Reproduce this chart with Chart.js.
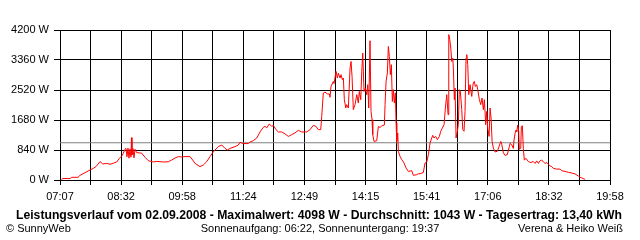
<!DOCTYPE html>
<html>
<head>
<meta charset="utf-8">
<script src="https://cdn.jsdelivr.net/npm/chart.js@4.4.1/dist/chart.umd.min.js"></script>
<style>
  body { margin: 0; background: #fff; }
  canvas { display: block; }
</style>
</head>
<body>
<canvas id="power-chart" width="640" height="240"></canvas>
<script>
// times in minutes since midnight, power in W
const minutes = [
  429.1, 431.2, 441.0, 443.4, 452.2, 455.0, 462.1, 469.1, 473.7, 477.5,
  483.1, 486.9, 492.5, 497.1, 501.7, 506.5, 510.1, 513.5, 515.7, 518.1,
  519.5, 520.9, 522.3, 523.7, 525.1, 526.5, 527.2, 527.9, 529.3, 530.7,
  532.2, 534.5, 541.5, 546.2, 550.8, 557.8,
  562.6, 571.8, 578.8, 583.6, 588.2, 592.9, 597.6, 602.3, 609.3, 613.0,
  616.3, 623.3, 627.9, 632.7, 637.3, 641.1, 644.3, 648.9, 653.7, 658.3,
  661.6, 665.3, 672.4, 677.0,
  679.4, 684.0, 691.0, 693.4, 698.0, 702.8, 707.4, 712.0, 714.4, 716.8,
  720.4, 723.8, 726.0, 729.8, 733.1, 737.8, 742.5, 747.1, 751.8, 756.5,
  761.1, 765.9, 772.9, 777.5, 782.1, 785.9, 789.1, 792.5, 793.9, 796.1,
  798.5, 801.8, 804.6,
  805.5, 806.9, 810.2, 811.1, 814.0, 815.8, 817.2, 819.6, 821.0, 822.8,
  824.2, 825.6, 827.6, 828.9, 831.2, 833.6, 835.0, 836.4, 838.2, 840.6,
  843.0, 845.2, 846.6, 848.6, 850.0, 851.4, 853.2, 855.0, 857.0, 858.4,
  859.8, 861.6, 863.0, 864.4, 865.4, 867.2, 871.0, 873.3, 875.6, 878.0,
  881.7, 882.7, 884.1, 885.9, 887.3, 888.7, 890.1, 891.5, 892.9, 894.3,
  895.7, 897.1, 898.1, 899.1, 900.5, 901.3, 903.7, 906.1, 909.3, 912.1,
  915.3, 920.1, 922.3, 927.1, 929.3,
  931.7, 936.3, 938.7, 941.1, 943.4, 944.8, 945.7, 948.1, 949.5, 951.3,
  953.7, 956.0, 958.8, 960.7, 963.0, 965.4, 967.2, 969.2, 971.0, 972.0,
  973.4, 974.8, 976.2, 977.6, 978.4, 979.8, 980.8, 982.2, 984.0, 985.4,
  986.8, 988.2, 990.2, 991.6, 993.4, 994.8, 996.2, 997.2, 998.6, 1000.0,
  1001.8, 1004.2, 1005.6, 1006.4, 1007.8, 1009.2, 1011.2, 1012.6, 1014.9, 1016.8,
  1018.6, 1020.5, 1021.9, 1023.8, 1025.2, 1026.6, 1028.5, 1029.9, 1031.3, 1032.7,
  1034.5, 1036.9, 1040.1, 1042.5, 1044.9, 1046.3, 1048.5, 1050.9, 1054.1, 1056.9,
  1057.9, 1060.3, 1062.5, 1063.5, 1064.9, 1066.3, 1067.3, 1068.7, 1070.1, 1070.9,
  1072.9, 1073.7, 1075.1, 1076.5, 1077.9, 1080.3, 1083.6, 1086.9, 1090.6, 1093.0,
  1095.3, 1097.6, 1100.0, 1102.3, 1104.6, 1107.0, 1109.4, 1111.6, 1114.0, 1116.4,
  1118.6, 1123.4, 1128.0, 1130.4, 1135.0, 1139.6, 1144.4, 1149.0, 1153.7, 1156.0,
  1158.4, 1161.6, 1163.1
];
const watts = [
  20, 40, 40, 75, 75, 130, 205, 280, 325, 375,
  515, 450, 465, 440, 470, 505, 605, 670, 745, 860,
  885, 650, 890, 610, 870, 640, 1185, 700, 880, 620,
  860, 765, 753, 635, 540, 505,
  520, 505, 510, 560, 615, 655, 645, 655, 655, 560,
  465, 375, 420, 515, 655, 765, 840, 935, 980, 885,
  840, 885, 935, 980,
  1055, 1020, 1020, 1065, 1100, 1175, 1345, 1475, 1500, 1460,
  1570, 1500, 1530, 1410, 1345, 1345, 1290, 1220, 1270, 1320,
  1390, 1345, 1345, 1410, 1530, 1500, 1410, 1410, 1780, 2435,
  2460, 2410, 2410,
  2315, 2620, 2760, 2700, 3040, 2855, 2990, 2855, 2950, 2810,
  2855, 2250, 2015, 2110, 2015, 3135, 3320, 2900, 1970, 2110,
  2390, 2155, 2480, 2250, 3040, 3555, 2480, 2575, 2390, 2670,
  2015, 3900, 1920, 1690, 1270, 1080, 1100, 1500, 1470, 1515,
  1540, 2110, 2760, 2995, 3740, 3460, 2950, 3230, 2200, 2530,
  2155, 2440, 1595, 1080, 1315, 800, 660, 570, 475, 335,
  240, 260, 130, 150, 175,
  175, 210, 475, 500, 710, 895, 1035, 1175, 1250, 1175,
  1220, 1130, 1220, 1365, 1455, 1550, 2015, 2390, 1830, 4070,
  3930, 3695, 3320, 3415, 3135, 2250, 2575, 1175, 1365, 1550,
  2530, 2480, 1970, 1410, 1365, 1920, 3415, 3510, 3230, 2390,
  2670, 2340, 2620, 2715, 2760, 2620, 2670, 2530, 2250, 2110,
  2295, 1970, 2250, 1550, 1920, 1455, 1220, 2015, 1735, 1080,
  895, 785, 805, 940, 1080, 990, 760, 690, 710, 940,
  1025, 985, 885, 1120, 1305, 1400, 1355, 1540, 1355, 860,
  885, 1495, 1520, 885, 560, 605, 515, 490, 515, 465,
  535, 465, 540, 560, 505, 465, 490, 440, 395, 375,
  325, 305, 305, 260, 240, 215, 195, 170, 110, 75,
  60, 28, 20
];
const average = 1043;
const startMinute = 427;   // 07:07
const endMinute = 1198;    // 19:58
const tickLabels = ['07:07', '08:32', '09:58', '11:24', '12:49', '14:15', '15:41', '17:06', '18:32', '19:58'];
const yMax = 4200;
const yStep = 840;

const titleText = 'Leistungsverlauf vom 02.09.2008 - Maximalwert: 4098 W - Durchschnitt: 1043 W - Tagesertrag: 13,40 kWh';
const footerLeft = '\u00A9 SunnyWeb';
const footerCenter = 'Sonnenaufgang: 06:22, Sonnenuntergang: 19:37';
const footerRight = 'Verena & Heiko Wei\u00DF';

const font = '"Liberation Sans", Arial, sans-serif';

const points = minutes.map(function (m, i) {
  return { x: m, y: watts[i] };
});

const footerPlugin = {
  id: 'footerText',
  afterDraw(chart) {
    const c = chart.ctx;
    c.save();
    c.fillStyle = '#000';
    c.textBaseline = 'middle';
    c.font = 'bold 12.2px ' + font;
    c.textAlign = 'center';
    c.fillText(titleText, 319, 216);
    c.font = '11px ' + font;
    c.textAlign = 'left';
    c.fillText(footerLeft, 6, 229);
    c.textAlign = 'center';
    c.fillText(footerCenter, 320, 229);
    c.textAlign = 'right';
    c.fillText(footerRight, 623, 229);
    c.restore();
  }
};

new Chart(document.getElementById('power-chart'), {
  type: 'line',
  data: {
    datasets: [
      {
        data: points,
        borderColor: '#ff0000',
        borderWidth: 1,
        pointRadius: 0,
        tension: 0,
        order: 1
      },
      {
        data: [{ x: startMinute, y: average }, { x: endMinute, y: average }],
        borderColor: '#808080',
        borderWidth: 1,
        pointRadius: 0,
        order: 2
      }
    ]
  },
  options: {
    responsive: false,
    animation: false,
    events: [],
    layout: { padding: { top: 30, right: 30, left: 0, bottom: 0 } },
    plugins: { legend: { display: false }, tooltip: { enabled: false } },
    scales: {
      x: {
        type: 'linear',
        min: startMinute,
        max: endMinute,
        afterBuildTicks(scale) {
          const n = (tickLabels.length - 1) * 2;
          const t = [];
          for (let k = 0; k <= n; k++) {
            t.push({ value: startMinute + (endMinute - startMinute) * k / n });
          }
          scale.ticks = t;
        },
        afterFit(scale) { scale.height = 60; },
        ticks: {
          autoSkip: false,
          maxRotation: 0,
          padding: 5,
          color: '#000',
          font: { family: font, size: 11 },
          callback: function (value, index) {
            return index % 2 === 0 ? tickLabels[index / 2] : '';
          }
        },
        grid: { color: '#000', lineWidth: 1, tickLength: 5 },
        border: { color: '#000' }
      },
      y: {
        min: 0,
        max: yMax,
        afterFit(scale) { scale.width = 60; },
        ticks: {
          stepSize: yStep,
          padding: 5,
          color: '#000',
          font: { family: font, size: 11 },
          callback: function (value) { return value + ' W'; }
        },
        grid: { color: '#000', lineWidth: 1, tickLength: 6 },
        border: { color: '#000' }
      }
    }
  },
  plugins: [footerPlugin]
});
</script>
</body>
</html>
